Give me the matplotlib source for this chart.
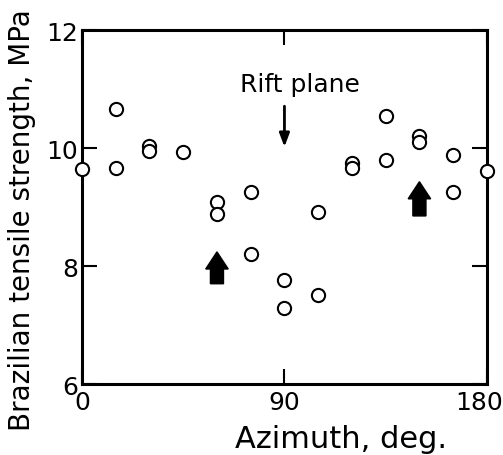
import numpy as np
import matplotlib.pyplot as plt
from matplotlib.patches import FancyArrow
from matplotlib.transforms import ScaledTranslation

# azimuth (deg) and Brazilian tensile strength (MPa)
azimuth = [0, 15, 15, 30, 30, 45, 60, 60, 75, 75, 90, 90,
           105, 105, 120, 120, 135, 135, 150, 150, 165, 165, 180]
strength = [9.64, 10.66, 9.67, 10.04, 9.95, 9.94, 9.08, 8.88, 9.26, 8.2, 7.76, 7.29,
            8.92, 7.51, 9.75, 9.66, 10.55, 9.8, 10.21, 10.11, 9.88, 9.26, 9.62]

# thick up arrows
arrow_x = [60, 150]
arrow_base = [7.7, 8.85]
arrow_tip = [8.24, 9.43]

rift_x = 90
rift_from = 10.71
rift_to = 10.02

fig = plt.figure(figsize=(5.03, 4.56), dpi=100)
ax = fig.add_axes([0.163, 0.1557, 0.805, 0.776])

ax.plot(azimuth, strength, 'o', mfc='white', mec='black', ms=9.5, mew=1.5,
        clip_on=False, zorder=3)

for x, b, t in zip(arrow_x, arrow_base, arrow_tip):
    ax.add_patch(FancyArrow(x, b, 0, t - b, width=5.8, head_width=10,
                            head_length=0.29, length_includes_head=True,
                            color='black', zorder=4))

ax.annotate('', xy=(rift_x, rift_to), xytext=(rift_x, rift_from),
            arrowprops=dict(arrowstyle='-|>,head_length=0.8,head_width=0.3',
                            color='black', lw=2, shrinkA=0, shrinkB=0))
ax.text(rift_x + 7, 11.08, 'Rift plane', ha='center', va='center', fontsize=18)

ax.set_xlim(0, 180)
ax.set_ylim(6, 12)
ax.set_xticks([0, 90, 180])
ax.set_yticks([6, 8, 10, 12])
ax.tick_params(axis='both', direction='in', length=11, width=1.5,
               labelsize=18, top=True, right=True)
ax.tick_params(axis='x', pad=4)
ax.tick_params(axis='y', pad=3)
for s in ax.spines.values():
    s.set_linewidth(2.2)

# keep the last x label inside the figure
lab = ax.get_xticklabels()[-1]
lab.set_transform(lab.get_transform() + ScaledTranslation(-8 / 100, 0, fig.dpi_scale_trans))

fig.text(341 / 503, 1 - 440 / 456, 'Azimuth, deg.', ha='center', va='center',
         fontsize=22)
fig.text(22 / 503, 1 - 220 / 456, 'Brazilian tensile strength, MPa',
         ha='center', va='center', rotation=90, fontsize=20)

fig.savefig('out.png', dpi=100)
